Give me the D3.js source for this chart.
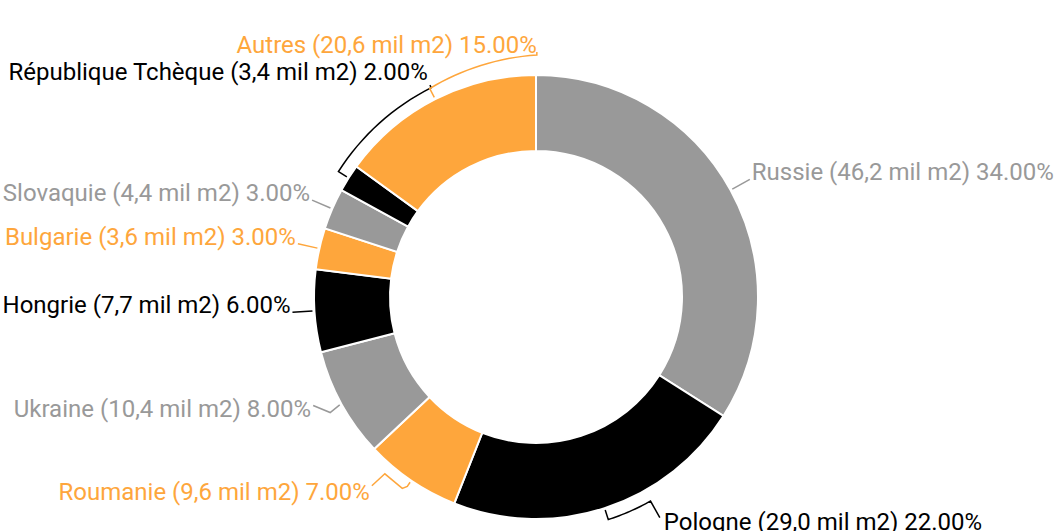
<html>
<head>
    <meta charset="utf-8">
    <script src="https://d3js.org/d3.v7.min.js"></script>
    <style>
        body { margin: 0; background: #fff; }
        text { font-family: Roboto, "Noto Sans", sans-serif; }
    </style>
</head>
<body>
    <svg id="chart"></svg>
    <script>
        // data
        var countries = ["Russie", "Pologne", "Roumanie", "Ukraine", "Hongrie", "Bulgarie", "Slovaquie", "République Tchèque", "Autres"];
        var surfaces = [46.2, 29.0, 9.6, 10.4, 7.7, 3.6, 4.4, 3.4, 20.6];   // mil m2
        var percents = [34, 22, 7, 8, 6, 3, 3, 2, 15];
        var palette = ["#999999", "#000000", "#fea63c"];

        var W = 1056, H = 531;
        var cx = 536, cy = 297, R = 222, r0 = 146;
        var labelR = R + 22;

        // labels pushed away from their slice: angle in degrees (from top, clockwise), radius, text nudge
        var labelAngle = { "Autres": 0.2, "République Tchèque": 333.4, "Pologne": 150.7 };
        var labelRadius = { "Pologne": 253, "Autres": 245, "République Tchèque": 237 };
        var textNudge = { "Pologne": [2, 11], "République Tchèque": [0, -6], "Autres": [2, 0] };
        // anchor shift and the kink of the leader, relative to the shifted anchor
        var anchorNudge = { "Roumanie": [-27, -13], "Ukraine": [-9, -9] };
        var kink = { "Roumanie": [13, -12], "Ukraine": [17, 7] };

        var data = countries.map(function(c, i) {
            return { name: c, surface: surfaces[i], pct: percents[i], color: palette[i % 3] };
        });

        var svg = d3.select("#chart").attr("width", W).attr("height", H);
        var g = svg.append("g").attr("transform", "translate(" + cx + "," + cy + ")");

        var pie = d3.pie().sort(null).value(function(d) { return d.pct; });
        var arc = d3.arc().innerRadius(r0).outerRadius(R);
        var arcs = pie(data);

        g.selectAll("path.slice")
            .data(arcs)
            .enter()
            .append("path").classed("slice", true)
            .attr("d", arc)
            .attr("fill", function(d) { return d.data.color; })
            .attr("stroke", "#fff").attr("stroke-width", 2);

        function pt(angle, rad) {
            return [rad * Math.sin(angle), -rad * Math.cos(angle)];
        }
        var toRad = Math.PI / 180;

        arcs.forEach(function(d) {
            var name = d.data.name;
            var mid = (d.startAngle + d.endAngle) / 2;
            var pushed = labelAngle[name] != null;
            var la = pushed ? labelAngle[name] * toRad : mid;
            if (la - mid > Math.PI) la -= 2 * Math.PI;
            if (mid - la > Math.PI) la += 2 * Math.PI;
            var lr = labelRadius[name] || labelR;
            var anchor = pt(la, lr);
            var right = Math.sin(la) > 0.05;

            var pts = [pt(mid, R + 2)];
            if (pushed) {
                // bend along the ring towards the label
                pts.push(pt(mid, R + 10));
                var steps = 16, br = R + 12;
                var er = name === "Pologne" ? br : lr - 3;
                for (var s = 0; s <= steps; s++) {
                    var a = mid + (la - mid) * s / steps;
                    pts.push(pt(a, br + (er - br) * s / steps));
                }
            }
            var tn = textNudge[name] || [0, 0];
            if (anchorNudge[name]) {
                anchor = [anchor[0] + anchorNudge[name][0], anchor[1] + anchorNudge[name][1]];
                if (name === "Roumanie") {
                    var m = pt(mid, R + 7);
                    pts.push(m);
                    pts.push([m[0] - 5, m[1] + 2]);
                }
                pts.push([anchor[0] + kink[name][0], anchor[1] + kink[name][1]]);
                tn = [0, name === "Roumanie" ? 13 : 10];
            }
            pts.push(anchor);

            g.append("path")
                .attr("d", d3.line()(pts))
                .attr("fill", "none")
                .attr("stroke", d.data.color)
                .attr("stroke-width", 1.5);

            var label = name + " (" + d3.format(".1f")(d.data.surface).replace(".", ",") + " mil m2) " +
                d3.format(".2f")(d.data.pct) + "%";

            g.append("text")
                .attr("x", anchor[0] + (right ? 2 : -2) + tn[0])
                .attr("y", anchor[1] + 1 + tn[1])
                .attr("text-anchor", right ? "start" : "end")
                .attr("font-size", 24)
                .attr("fill", d.data.color)
                .text(label);
        });
    </script>
</body>
</html>
